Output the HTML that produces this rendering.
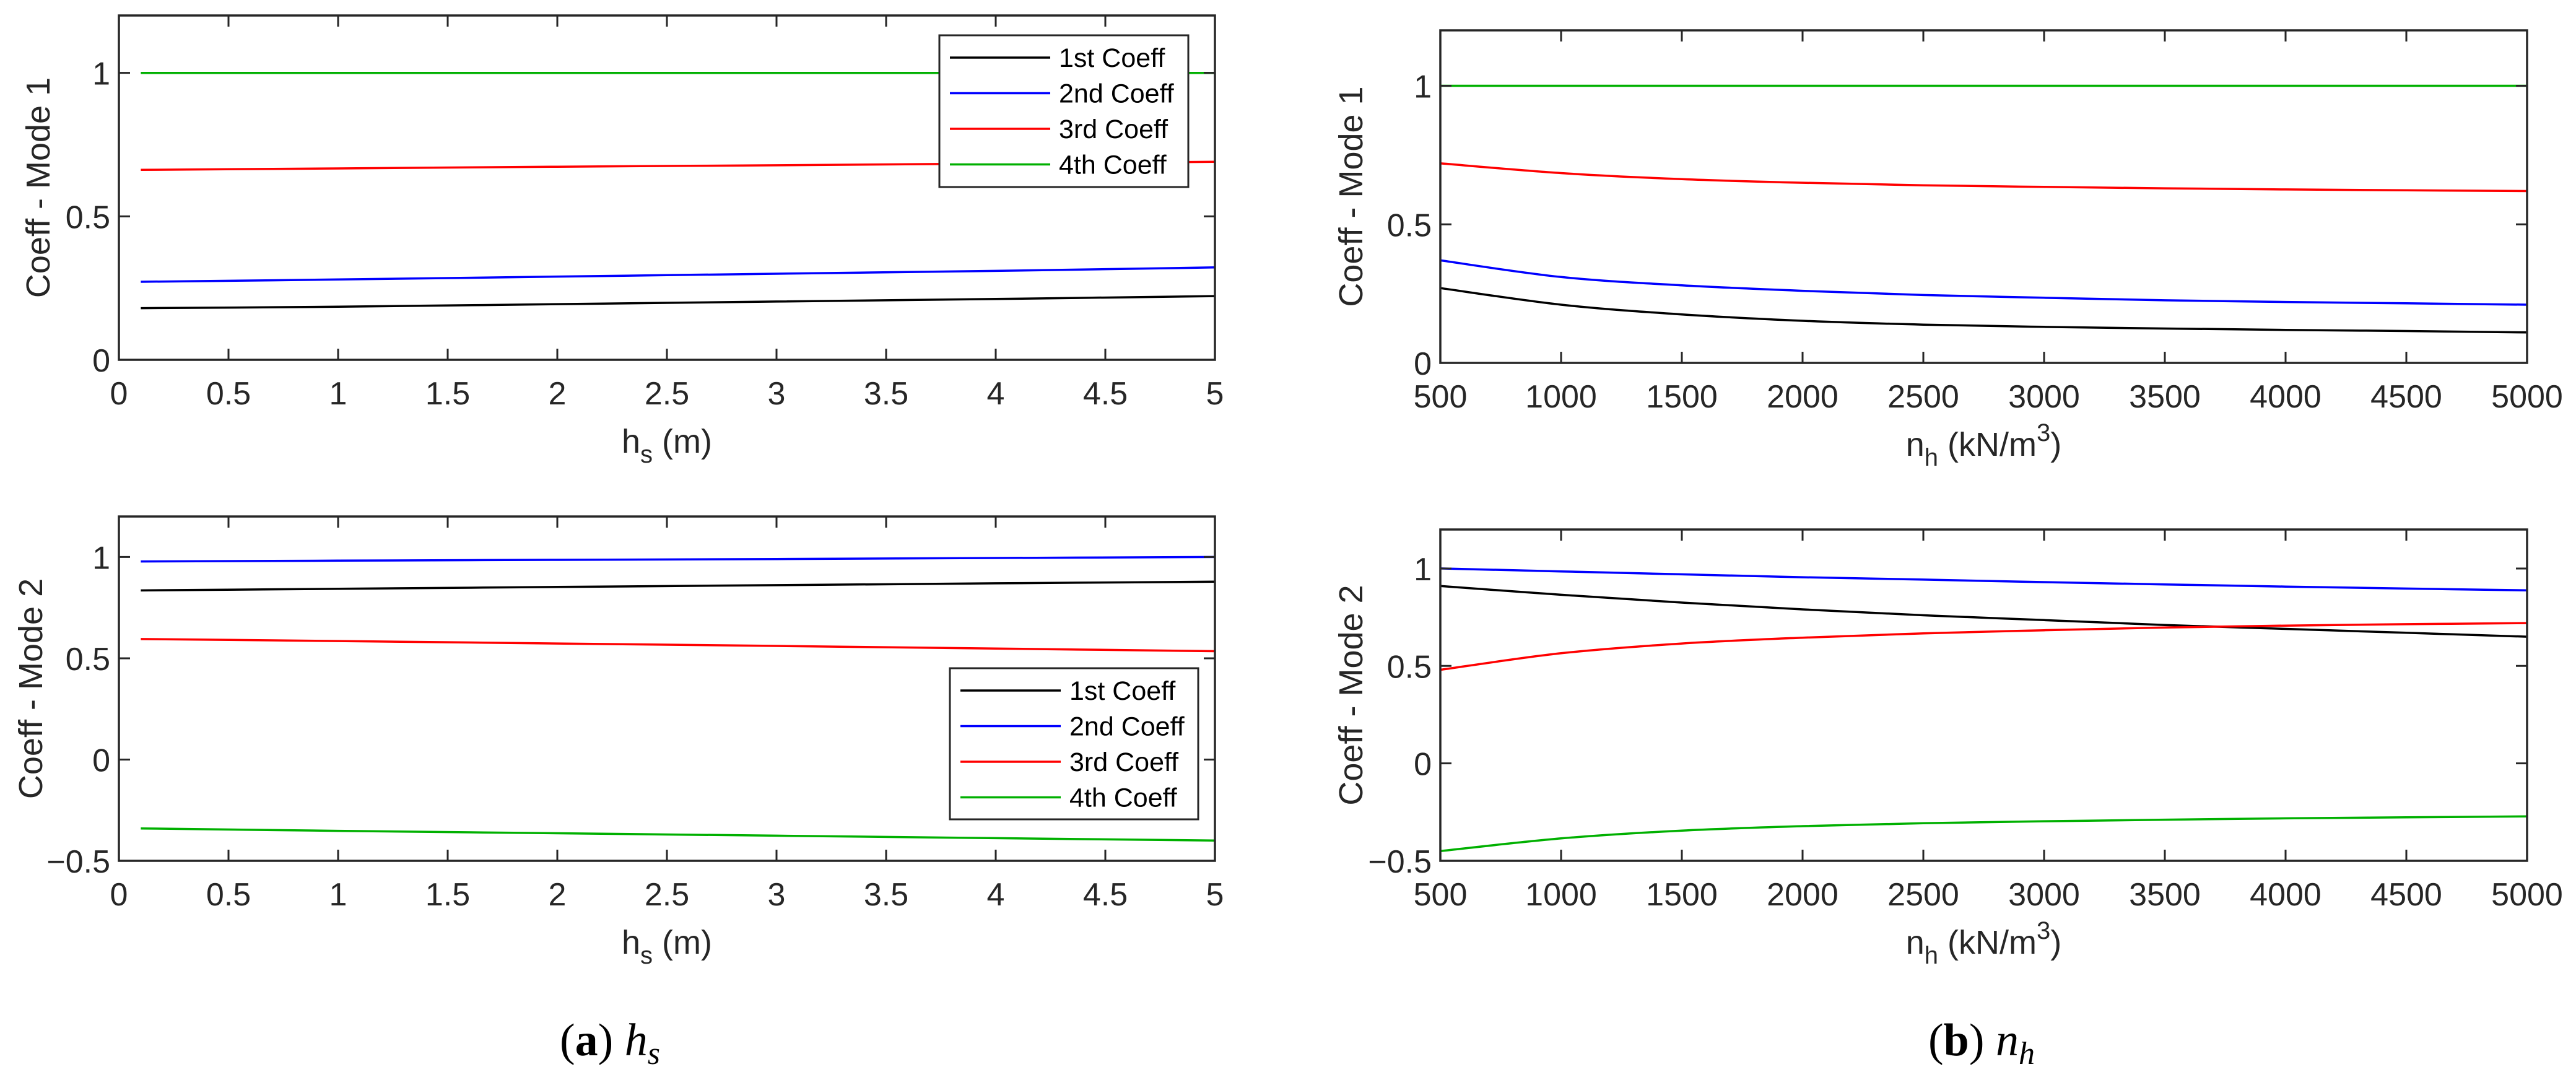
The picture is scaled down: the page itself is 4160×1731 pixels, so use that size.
<!DOCTYPE html>
<html><head><meta charset="utf-8">
<style>
html,body{margin:0;padding:0;background:#fff;}
svg{display:block;font-family:"Liberation Sans",Arial,sans-serif;}
</style></head>
<body>
<svg id="fig" width="4160" height="1731" viewBox="0 0 4160 1731" xmlns="http://www.w3.org/2000/svg">
<rect width="4160" height="1731" fill="#fff"/>
<text x="985" y="1704" text-anchor="middle" font-family="Liberation Serif, serif" font-size="74" fill="#000">(<tspan font-weight="bold">a</tspan>)  <tspan font-style="italic">h</tspan><tspan font-style="italic" font-size="52" dy="14">s</tspan></text>
<text x="3200" y="1704" text-anchor="middle" font-family="Liberation Serif, serif" font-size="74" fill="#000">(<tspan font-weight="bold">b</tspan>)  <tspan font-style="italic">n</tspan><tspan font-style="italic" font-size="52" dy="14">h</tspan></text>
</svg>
<script>
// ---- data ----
const hsX = [0.1, 1, 2, 3, 4, 5];
const hsTicks = [0, 0.5, 1, 1.5, 2, 2.5, 3, 3.5, 4, 4.5, 5];
const hsM1_c1 = [0.18, 0.185, 0.194, 0.203, 0.212, 0.222];
const hsM1_c2 = [0.272, 0.28, 0.29, 0.3, 0.31, 0.322];
const hsM1_c3 = [0.662, 0.667, 0.673, 0.678, 0.684, 0.69];
const hsM1_c4 = [1, 1, 1, 1, 1, 1];
const hsM2_c1 = [0.835, 0.843, 0.852, 0.861, 0.87, 0.878];
const hsM2_c2 = [0.978, 0.982, 0.986, 0.99, 0.995, 1.0];
const hsM2_c3 = [0.595, 0.585, 0.573, 0.561, 0.548, 0.535];
const hsM2_c4 = [-0.34, -0.352, -0.364, -0.376, -0.388, -0.4];

const nhX = [500, 1000, 1500, 2000, 2500, 3000, 3500, 4000, 4500, 5000];
const nhTicks = [500, 1000, 1500, 2000, 2500, 3000, 3500, 4000, 4500, 5000];
const nhM1_c1 = [0.27, 0.21, 0.175, 0.152, 0.138, 0.13, 0.124, 0.119, 0.115, 0.11];
const nhM1_c2 = [0.37, 0.31, 0.28, 0.26, 0.245, 0.235, 0.226, 0.22, 0.215, 0.21];
const nhM1_c3 = [0.72, 0.685, 0.663, 0.65, 0.641, 0.635, 0.63, 0.626, 0.623, 0.62];
const nhM1_c4 = [1, 1, 1, 1, 1, 1, 1, 1, 1, 1];
const nhM2_c1 = [0.91, 0.865, 0.825, 0.79, 0.76, 0.735, 0.71, 0.69, 0.67, 0.65];
const nhM2_c2 = [1.0, 0.985, 0.97, 0.955, 0.943, 0.93, 0.918, 0.907, 0.897, 0.888];
const nhM2_c3 = [0.48, 0.565, 0.615, 0.645, 0.667, 0.683, 0.697, 0.707, 0.714, 0.72];
const nhM2_c4 = [-0.45, -0.385, -0.345, -0.322, -0.307, -0.297, -0.289, -0.282, -0.277, -0.272];

const yTicksM1 = [0, 0.5, 1];
const yTicksM2 = [-0.5, 0, 0.5, 1];
const legendLabels = ["1st Coeff", "2nd Coeff", "3rd Coeff", "4th Coeff"];
const colors = ["#000000", "#0000ff", "#ff0000", "#00b000"];

const NS = "http://www.w3.org/2000/svg";
const svg = document.getElementById('fig');
function mk(tag, attrs, parent) {
  const e = document.createElementNS(NS, tag);
  for (const k in attrs) e.setAttribute(k, attrs[k]);
  (parent || svg).appendChild(e);
  return e;
}
function smoothPath(P) {
  let d = 'M' + P[0][0].toFixed(1) + ',' + P[0][1].toFixed(1);
  for (let i = 0; i < P.length - 1; i++) {
    const p0 = P[Math.max(i - 1, 0)], p1 = P[i], p2 = P[i + 1], p3 = P[Math.min(i + 2, P.length - 1)];
    const c1x = p1[0] + (p2[0] - p0[0]) / 6, c1y = p1[1] + (p2[1] - p0[1]) / 6;
    const c2x = p2[0] - (p3[0] - p1[0]) / 6, c2y = p2[1] - (p3[1] - p1[1]) / 6;
    d += ' C' + c1x.toFixed(1) + ',' + c1y.toFixed(1) + ' ' + c2x.toFixed(1) + ',' + c2y.toFixed(1) + ' ' + p2[0].toFixed(1) + ',' + p2[1].toFixed(1);
  }
  return d;
}

function panel(cfg) {
  const g = mk('g', {});
  
  
  const sx = v => cfg.x0 + (v - cfg.xmin) / (cfg.xmax - cfg.xmin) * (cfg.x1 - cfg.x0);
  const sy = v => cfg.yb - (v - cfg.ymin) / (cfg.ymax - cfg.ymin) * (cfg.yb - cfg.yt);
  cfg.series.forEach((s, i) => {
    const pts = cfg.xs.map((x, j) => [sx(x), sy(s[j])]);
    const pl = mk('path', {d: smoothPath(pts), fill: 'none', stroke: colors[i], 'stroke-width': 3.5, 'stroke-linejoin': 'round'}, g);
    
    
  });
  const box = mk('rect', {x: cfg.x0, y: cfg.yt, width: cfg.x1 - cfg.x0, height: cfg.yb - cfg.yt, fill: 'none', stroke: '#262626', 'stroke-width': 3.5}, g);
  
  
  cfg.xticks.forEach(t => {
    const x = sx(t);
    mk('line', {x1: x, x2: x, y1: cfg.yb, y2: cfg.yb - 18, stroke: '#262626', 'stroke-width': 3}, g);
    mk('line', {x1: x, x2: x, y1: cfg.yt, y2: cfg.yt + 18, stroke: '#262626', 'stroke-width': 3}, g);
    const tl = mk('text', {x: x, y: cfg.yb + 72, 'text-anchor': 'middle', 'font-size': 52, fill: '#262626'}, g);
    tl.textContent = String(t);
    
    
  });
  cfg.yticks.forEach(t => {
    const y = sy(t);
    mk('line', {x1: cfg.x0, x2: cfg.x0 + 18, y1: y, y2: y, stroke: '#262626', 'stroke-width': 3}, g);
    mk('line', {x1: cfg.x1, x2: cfg.x1 - 18, y1: y, y2: y, stroke: '#262626', 'stroke-width': 3}, g);
    const tl = mk('text', {x: cfg.x0 - 14, y: y + 19, 'text-anchor': 'end', 'font-size': 52, fill: '#262626'}, g);
    tl.textContent = t < 0 ? '\u2212' + String(-t) : String(t);
    
    
  });
  const xt = mk('text', {x: (cfg.x0 + cfg.x1) / 2, y: cfg.yb + 150, 'text-anchor': 'middle', 'font-size': 54, fill: '#262626'}, g);
  
  
  xt.innerHTML = cfg.xtitle;
  const yc = (cfg.yt + cfg.yb) / 2;
  const yt = mk('text', {x: cfg.ytx, y: yc, 'text-anchor': 'middle', 'font-size': 54, fill: '#262626', transform: 'rotate(-90 ' + cfg.ytx + ' ' + yc + ')'}, g);
  yt.textContent = cfg.ytitle;
  
  
  if (cfg.legend) {
    const L = cfg.legend;
    const lg = mk('g', {}, g);
    
    
    mk('rect', {x: L.x, y: L.y, width: L.w, height: L.h, fill: '#fff', stroke: '#262626', 'stroke-width': 3}, lg);
    legendLabels.forEach((lab, i) => {
      const yy = L.y + 36 + i * 57.5;
      const ln = mk('line', {x1: L.x + 17, x2: L.x + 179, y1: yy, y2: yy, stroke: colors[i], 'stroke-width': 3.5}, lg);
      
      
      const tx = mk('text', {x: L.x + 193, y: yy + 15, 'font-size': 43, fill: '#000'}, lg);
      tx.textContent = lab;
      
      
    });
  }
}

const hsTitle = 'h<tspan font-size="40" dy="16">s</tspan><tspan dy="-16"> (m)</tspan>';
const nhTitle = 'n<tspan font-size="40" dy="16">h</tspan><tspan dy="-16"> (kN/m</tspan><tspan font-size="40" dy="-24">3</tspan><tspan dy="24">)</tspan>';

panel({name: 'panel-hs-mode1', x0: 192, x1: 1962, yt: 25, yb: 581, xmin: 0, xmax: 5, ymin: 0, ymax: 1.2,
  xs: hsX, series: [hsM1_c1, hsM1_c2, hsM1_c3, hsM1_c4], xticks: hsTicks, yticks: yTicksM1,
  xtitle: hsTitle, ytitle: 'Coeff - Mode 1', ytx: 80,
  legend: {x: 1517, y: 57, w: 402, h: 245}});
panel({name: 'panel-hs-mode2', x0: 192, x1: 1962, yt: 834, yb: 1390, xmin: 0, xmax: 5, ymin: -0.5, ymax: 1.2,
  xs: hsX, series: [hsM2_c1, hsM2_c2, hsM2_c3, hsM2_c4], xticks: hsTicks, yticks: yTicksM2,
  xtitle: hsTitle, ytitle: 'Coeff - Mode 2', ytx: 68,
  legend: {x: 1534, y: 1079, w: 401, h: 244}});
panel({name: 'panel-nh-mode1', x0: 2326, x1: 4081, yt: 49, yb: 586, xmin: 500, xmax: 5000, ymin: 0, ymax: 1.2,
  xs: nhX, series: [nhM1_c1, nhM1_c2, nhM1_c3, nhM1_c4], xticks: nhTicks, yticks: yTicksM1,
  xtitle: nhTitle, ytitle: 'Coeff - Mode 1', ytx: 2200});
panel({name: 'panel-nh-mode2', x0: 2326, x1: 4081, yt: 855, yb: 1390, xmin: 500, xmax: 5000, ymin: -0.5, ymax: 1.2,
  xs: nhX, series: [nhM2_c1, nhM2_c2, nhM2_c3, nhM2_c4], xticks: nhTicks, yticks: yTicksM2,
  xtitle: nhTitle, ytitle: 'Coeff - Mode 2', ytx: 2200});
</script>
</body></html>
